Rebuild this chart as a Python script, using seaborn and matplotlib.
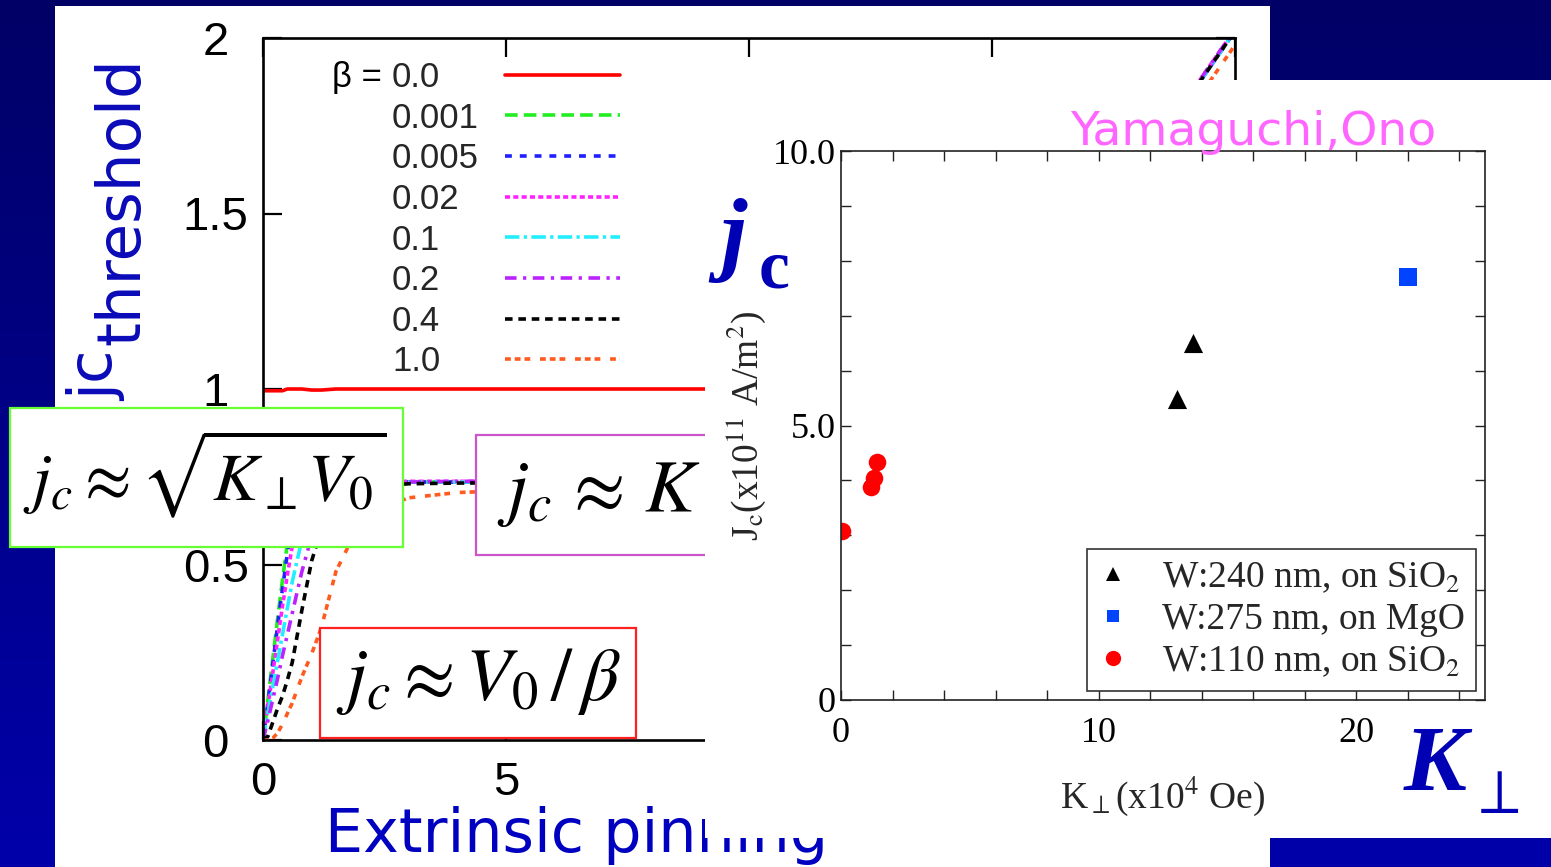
import numpy as np
import pandas as pd
import matplotlib
matplotlib.use("Agg")
import matplotlib.pyplot as plt
from matplotlib.patches import Rectangle
from matplotlib.lines import Line2D
from matplotlib.ticker import MultipleLocator
from matplotlib.colors import LinearSegmentedColormap
import seaborn as sns

# ---------------- simulation: threshold current vs extrinsic pinning ----------------
V0 = [0, 0.1, 0.2, 0.3, 0.4, 0.5, 0.6, 0.8, 1.0, 1.2, 1.5, 2.0, 2.5, 3.0, 4.0,
      6.0, 8.0, 10.0, 12.0, 13.5, 15.0, 16.5, 18.0, 19.0, 19.5, 20.0]
beta_labels = ["0.0", "0.001", "0.005", "0.02", "0.1", "0.2", "0.4", "1.0"]

jc_b0_0 = [0.995, 0.995, 0.995, 0.995, 0.995, 1.0, 1.0, 1.0, 0.997, 0.997, 1.0, 1.0, 1.0,
           1.0, 1.0, 1.0, 1.0, 1.0, 1.0, 1.0, 1.0, 1.0, 1.0, 1.0, 1.0, 1.0]
jc_b0_001 = [0, 0.115, 0.23, 0.345, 0.455, 0.56, 0.64, 0.71, 0.73, 0.735, 0.735, 0.735, 0.735,
             0.735, 0.735, 0.735, 0.735, 0.735, 0.735, 0.74, 1.03, 1.33, 1.62, 1.82, 1.92, 2.02]
jc_b0_005 = [0, 0.105, 0.215, 0.325, 0.43, 0.53, 0.62, 0.70, 0.725, 0.73, 0.735, 0.735, 0.735,
             0.735, 0.735, 0.735, 0.735, 0.735, 0.735, 0.74, 1.03, 1.33, 1.62, 1.82, 1.92, 2.02]
jc_b0_02 = [0, 0.095, 0.19, 0.285, 0.38, 0.47, 0.55, 0.67, 0.715, 0.73, 0.735, 0.737, 0.737,
            0.737, 0.737, 0.737, 0.737, 0.737, 0.737, 0.742, 1.035, 1.335, 1.625, 1.825, 1.925, 2.025]
jc_b0_1 = [0, 0.075, 0.15, 0.225, 0.30, 0.375, 0.45, 0.57, 0.65, 0.70, 0.725, 0.73, 0.733,
           0.735, 0.735, 0.735, 0.735, 0.735, 0.735, 0.74, 1.03, 1.33, 1.62, 1.82, 1.92, 2.02]
jc_b0_2 = [0, 0.055, 0.115, 0.175, 0.24, 0.30, 0.36, 0.48, 0.58, 0.65, 0.70, 0.725, 0.73,
           0.735, 0.737, 0.737, 0.737, 0.737, 0.737, 0.742, 1.035, 1.335, 1.625, 1.825, 1.925, 2.025]
jc_b0_4 = [0, 0.01, 0.05, 0.09, 0.125, 0.17, 0.22, 0.37, 0.51, 0.60, 0.67, 0.71, 0.725,
           0.73, 0.732, 0.733, 0.733, 0.733, 0.733, 0.74, 1.03, 1.33, 1.62, 1.82, 1.92, 2.02]
jc_b1_0 = [0, 0.0, 0.005, 0.02, 0.045, 0.075, 0.105, 0.18, 0.245, 0.32, 0.48, 0.62, 0.665,
           0.69, 0.705, 0.715, 0.72, 0.725, 0.728, 0.73, 1.0, 1.29, 1.58, 1.78, 1.88, 1.98]

beta_colors = ["#ff0000", "#22ee22", "#1f1fff", "#ff22ff", "#22eeff", "#bb22ff", "#000000", "#ff5a1f"]
beta_dashes = ["", (3.5, 1.7), (1.9, 2.2), (1.4, 0.9), (4.0, 1.2, 0.9, 1.2),
               (3.2, 1.8, 0.9, 1.8), (2.1, 1.6), (1.6, 1.1, 1.6, 1.1, 1.6, 2.7)]

# ---------------- experiment: Jc vs K_perp ----------------
K_w240 = [13.05, 13.65]
J_w240 = [5.49, 6.50]
K_w275 = [22.0]
J_w275 = [7.70]
K_w110 = [0.05, 1.15, 1.28, 1.40]
J_w110 = [3.08, 3.88, 4.04, 4.33]
sample_labels = ["W:240 nm, on SiO$_2$", "W:275 nm, on MgO", "W:110 nm, on SiO$_2$"]
sample_colors = ["#000000", "#0044ff", "#ff0000"]
sample_markers = ["^", "s", "o"]

sns.set_theme(style="ticks")
plt.rcParams["font.family"] = ["Liberation Sans", "DejaVu Sans"]
plt.rcParams["mathtext.fontset"] = "stix"

W, H = 1551, 867
fig = plt.figure(figsize=(W / 100, H / 100), dpi=100)


def fx(px):
    return px / W


def fy(py):
    return 1 - py / H


def frect(x0, y0, x1, y1):
    return [fx(x0), fy(y1), fx(x1) - fx(x0), fy(y0) - fy(y1)]


def panel(x0, y0, x1, y1, face="white", edge="none", lw=0, z=0):
    r = Rectangle((fx(x0), fy(y1)), fx(x1) - fx(x0), fy(y0) - fy(y1),
                  transform=fig.transFigure, facecolor=face, edgecolor=edge,
                  linewidth=lw, zorder=z)
    fig.add_artist(r)
    return r


# slide background
bg = fig.add_axes([0, 0, 1, 1], zorder=-10)
slide_cmap = LinearSegmentedColormap.from_list("slide", ["#000066", "#0000aa"])
bg.imshow(np.linspace(0, 1, 256)[:, None], cmap=slide_cmap, aspect="auto",
          extent=[0, 1, 0, 1], origin="upper")
bg.set_xlim(0, 1)
bg.set_ylim(0, 1)
bg.set_axis_off()

# white sheet behind the simulation plot
panel(55, 6, 1270, 867, z=-5)

# ---------------- left: simulation curves ----------------
ax1 = fig.add_axes(frect(263, 38, 1235, 740), zorder=0)
ax1.set_facecolor("white")
series = [jc_b0_0, jc_b0_001, jc_b0_005, jc_b0_02, jc_b0_1, jc_b0_2, jc_b0_4, jc_b1_0]
rows = []
for lab, vals in zip(beta_labels, series):
    for v, j in zip(V0, vals):
        rows.append({"V0": v, "jc": j, "beta": lab})
df = pd.DataFrame(rows)
sns.lineplot(data=df, x="V0", y="jc", hue="beta", style="beta",
             hue_order=beta_labels, style_order=beta_labels,
             palette=dict(zip(beta_labels, beta_colors)),
             dashes=dict(zip(beta_labels, beta_dashes)),
             linewidth=2.6, estimator=None, legend=False, ax=ax1)
ax1.set_xlim(0, 20)
ax1.set_ylim(0, 2)
ax1.set_xlabel("")
ax1.set_ylabel("")
# the sheet on the right hides everything past V0 = 5 below the top edge
ax1.set_xticks([0, 5, 10, 15, 20], ["0", "5", "", "", ""])
ax1.set_yticks([0, 0.5, 1, 1.5, 2], ["0", "0.5", "1", "1.5", "2"])
ax1.tick_params(direction="in", length=14, width=1.6, top=True, right=True,
                labelsize=34, color="black", labelcolor="black")
ax1.tick_params(axis="y", pad=34)
ax1.tick_params(axis="x", pad=15)
for t in ax1.get_yticklabels():
    t.set_horizontalalignment("center")
for s in ax1.spines.values():
    s.set_linewidth(1.9)
    s.set_color("black")

# legend: label column and key column kept separately so labels stay left aligned
leg_fs = 25
beta_lines = ax1.get_lines()[:len(beta_labels)]
blank = [Line2D([], [], alpha=0) for _ in beta_labels]
leg_labels = ax1.legend(blank, beta_labels, loc="upper left",
                        bbox_to_anchor=(fx(392), fy(61)), bbox_transform=fig.transFigure,
                        frameon=False, handlelength=0, handletextpad=0, borderpad=0,
                        borderaxespad=0, labelspacing=0.22, fontsize=leg_fs)
ax1.add_artist(leg_labels)
leg_keys = ax1.legend(beta_lines, [""] * len(beta_labels), loc="upper left",
                      bbox_to_anchor=(fx(505), fy(61)), bbox_transform=fig.transFigure,
                      frameon=False, handlelength=3.3, handletextpad=0, borderpad=0,
                      borderaxespad=0, labelspacing=0.22, fontsize=leg_fs)

blue_txt = "#0a0ab8"
fig.text(fx(113), fy(401), "jc", rotation=90, rotation_mode="anchor", ha="left",
         va="baseline", fontsize=44, color=blue_txt, family="DejaVu Sans", zorder=1)
fig.text(fx(139), fy(345), "threshold", rotation=90, rotation_mode="anchor", ha="left",
         va="baseline", fontsize=44, color=blue_txt, family="DejaVu Sans", zorder=1)
fig.text(fx(325), fy(852), "Extrinsic pinning", ha="left", va="baseline", fontsize=43.5,
         color="#0000c0", family="DejaVu Sans", zorder=1)

# regime formulas
panel(10, 408, 403, 547, edge="#66ff33", lw=1.6, z=2)
fig.text(fx(205), fy(500), r"$j_c \approx \sqrt{K_\perp V_0}$", ha="center", va="baseline",
         fontsize=49, color="black", zorder=2.5)
panel(476, 435, 760, 555, edge="#cc55cc", lw=1.6, z=2)
fig.text(fx(497), fy(512), r"$j_c\,\approx\,K_\perp$", ha="left", va="baseline",
         fontsize=54, color="black", zorder=2.5)
panel(320, 628, 636, 738, edge="#ff2020", lw=1.6, z=2)
fig.text(fx(478), fy(700), r"$j_c \approx V_0\,/\,\beta$", ha="center", va="baseline",
         fontsize=54, color="black", zorder=2.5)

# ---------------- right: measured Jc ----------------
panel(705, 80, 1551, 838, z=3)
ax2 = fig.add_axes(frect(841, 151, 1485, 700), zorder=4)
ax2.set_facecolor("white")
for K, J, lab, col, mk, sz in zip([K_w240, K_w275, K_w110], [J_w240, J_w275, J_w110],
                                  sample_labels, sample_colors, sample_markers,
                                  [190, 150, 160]):
    sns.scatterplot(x=K, y=J, color=col, marker=mk, s=sz, linewidth=0, ax=ax2, legend=False)
ax2.set_xlim(0, 25)
ax2.set_ylim(0, 10)
serif = "Liberation Serif"
ax2.set_xticks([0, 10, 20], ["0", "10", "20"], fontfamily=serif)
ax2.set_yticks([0, 5, 10], ["0", "5.0", "10.0"], fontfamily=serif)
ax2.xaxis.set_minor_locator(MultipleLocator(2))
ax2.yaxis.set_minor_locator(MultipleLocator(1))
ax2.tick_params(which="both", direction="in", length=7, width=1.0, top=True, right=True,
                color="#222222", labelcolor="black", labelsize=26)
ax2.tick_params(axis="y", pad=4)
ax2.tick_params(axis="x", pad=12)
for s in ax2.spines.values():
    s.set_linewidth(1.2)
    s.set_color("#222222")
ax2.set_xlabel(r"K$_\perp$(x10$^4$ Oe)", fontsize=27, family=serif, labelpad=18)
ax2.set_ylabel(r"J$_\mathrm{c}$(x10$^{11}$ A/m$^2$)", fontsize=27, family=serif, labelpad=3)

proxies = [Line2D([], [], linestyle="none", marker=m, color=c, markersize=ms, markeredgewidth=0)
           for m, c, ms in zip(sample_markers, sample_colors, [10, 8.5, 11])]
leg2 = ax2.legend(proxies, sample_labels, loc="lower right", frameon=True, fancybox=False,
                  framealpha=1, edgecolor="#333333", borderpad=0.3,
                  borderaxespad=0.25, handlelength=0.8, handletextpad=0.9,
                  labelspacing=0.2, prop={"family": serif, "size": 27})
leg2.get_frame().set_linewidth(1.2)

big_blue = "#0000b4"
fig.text(fx(720), fy(263), "j", fontsize=68, fontweight="bold", fontstyle="italic",
         family=serif, color=big_blue, zorder=5)
fig.text(fx(759), fy(287), "c", fontsize=50, fontweight="bold", family=serif,
         color=big_blue, zorder=5)
fig.text(fx(1404), fy(790), "K", fontsize=68, fontweight="bold", fontstyle="italic",
         family=serif, color=big_blue, zorder=5)
fig.text(fx(1468), fy(813), r"$\perp$", fontsize=45, color=big_blue, zorder=5)
fig.text(fx(1070), fy(145), "Yamaguchi,Ono", fontsize=34, color="#ff66ff",
         family="DejaVu Sans", va="baseline", zorder=5)

# "β =" prefix sits just left of the first legend label
fig.canvas.draw()
bb = leg_labels.get_texts()[0].get_window_extent()
fig.text(bb.x0 - 10, (bb.y0 + bb.y1) / 2, "β =", transform=None, ha="right",
         va="center", fontsize=leg_fs, color="black", zorder=1)

fig.savefig("out.png", dpi=100)
